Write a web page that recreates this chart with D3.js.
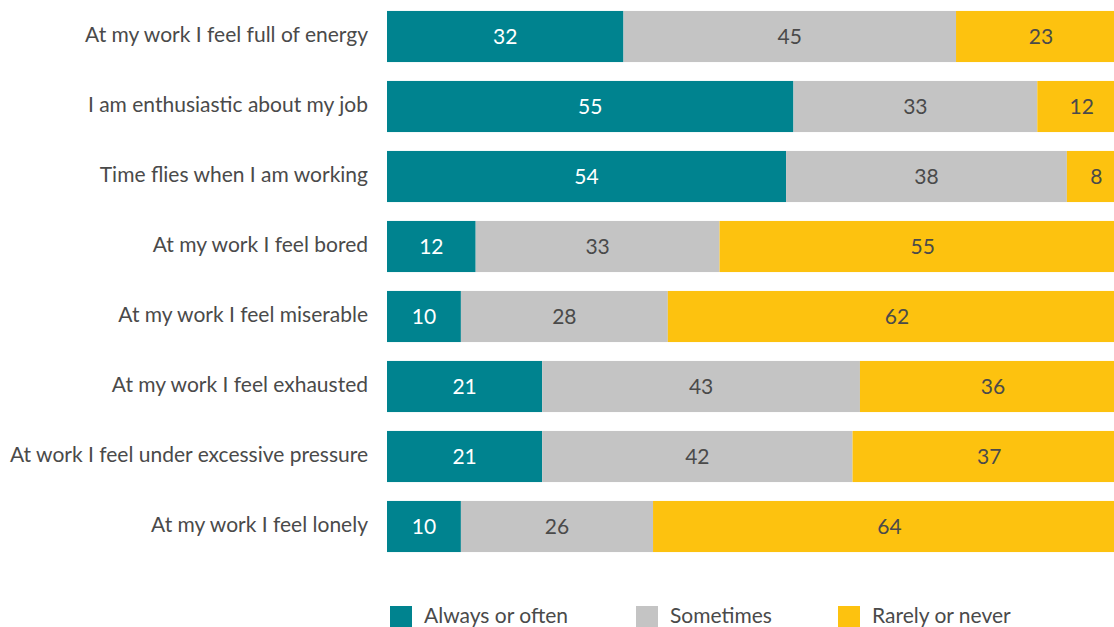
<!DOCTYPE html>
<html>
<head>
<meta charset="utf-8">
<script src="https://cdn.jsdelivr.net/npm/d3@7"></script>
<style>
  html, body { margin: 0; padding: 0; background: #fff; overflow: hidden; }
  svg { display: block; }
  text { font-family: Lato, "Open Sans", sans-serif; font-weight: 400; }
</style>
</head>
<body>
<svg id="chart" width="1114" height="627"></svg>
<script>
// Survey statements, top to bottom
const categories = [
  "At my work I feel full of energy",
  "I am enthusiastic about my job",
  "Time flies when I am working",
  "At my work I feel bored",
  "At my work I feel miserable",
  "At my work I feel exhausted",
  "At work I feel under excessive pressure",
  "At my work I feel lonely"
];

// Response shares (%) per statement
const alwaysOrOften  = [32, 55, 54, 12, 10, 21, 21, 10];
const sometimes      = [45, 33, 38, 33, 28, 43, 42, 26];
const rarelyOrNever  = [23, 12,  8, 55, 62, 36, 37, 64];

const seriesNames = ["Always or often", "Sometimes", "Rarely or never"];
const seriesColors = ["#00838f", "#c4c4c4", "#fdc20f"];
const labelColors = ["#ffffff", "#4a4a4a", "#4a4a4a"];

const rows = categories.map((c, i) => ({
  category: c,
  "Always or often": alwaysOrOften[i],
  "Sometimes": sometimes[i],
  "Rarely or never": rarelyOrNever[i]
}));

const stacked = d3.stack().keys(seriesNames)(rows);

const svg = d3.select("#chart");

const x = d3.scaleLinear().domain([0, 100]).range([387, 1126]);
const y = d3.scaleBand()
  .domain(categories)
  .range([1.5, 561.5])
  .paddingInner(0.27)
  .paddingOuter(0.135);

const color = d3.scaleOrdinal().domain(seriesNames).range(seriesColors);
const labelColor = d3.scaleOrdinal().domain(seriesNames).range(labelColors);

// Category axis on the left, no line or ticks
const yAxis = svg.append("g")
  .attr("transform", `translate(${x(0) - 19},0)`)
  .call(d3.axisLeft(y).tickSize(0).tickPadding(0));
yAxis.select(".domain").remove();
yAxis.selectAll("text")
  .attr("fill", "#4a4a4a")
  .style("font-size", "21px")
  .style("font-family", "Lato, sans-serif")
  .style("font-weight", "400")
  .attr("dy", "0.27em");

// Stacked segments
const layers = svg.append("g").selectAll("g")
  .data(stacked)
  .join("g")
  .attr("fill", d => color(d.key));

layers.selectAll("rect")
  .data(d => d)
  .join("rect")
  .attr("x", d => x(d[0]))
  .attr("y", d => y(d.data.category))
  .attr("width", d => x(d[1]) - x(d[0]))
  .attr("height", y.bandwidth());

// Value labels centred in each segment
const labels = svg.append("g").selectAll("g")
  .data(stacked)
  .join("g")
  .attr("fill", d => labelColor(d.key));

labels.selectAll("text")
  .data(d => d)
  .join("text")
  .attr("x", d => (x(d[0]) + x(d[1])) / 2)
  .attr("y", d => y(d.data.category) + y.bandwidth() / 2)
  .attr("text-anchor", "middle")
  .attr("dy", "0.36em")
  .style("font-size", "21px")
  .text(d => d[1] - d[0]);

// Legend along the bottom
const legendX = [390, 636, 838];
const legend = svg.append("g").selectAll("g")
  .data(seriesNames)
  .join("g")
  .attr("transform", (d, i) => `translate(${legendX[i]},606)`);

legend.append("rect")
  .attr("width", 22)
  .attr("height", 22)
  .attr("fill", d => color(d));

legend.append("text")
  .attr("x", 34)
  .attr("y", 17)
  .attr("fill", "#4a4a4a")
  .style("font-size", "21px")
  .text(d => d);
</script>
</body>
</html>
